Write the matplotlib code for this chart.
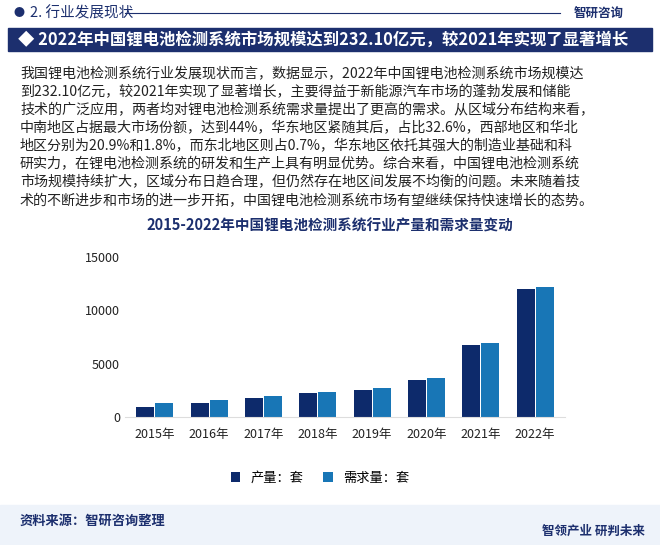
import matplotlib.pyplot as plt
from matplotlib.patches import Rectangle
import numpy as np

plt.rcParams['font.family'] = ['Noto Sans CJK SC', 'DejaVu Sans']

years = ['2015年', '2016年', '2017年', '2018年', '2019年', '2020年', '2021年', '2022年']
output = [910, 1320, 1820, 2230, 2510, 3450, 6770, 12040]
demand = [1320, 1600, 2000, 2320, 2700, 3670, 6960, 12230]

paragraph = [
    "我国锂电池检测系统行业发展现状而言，数据显示，2022年中国锂电池检测系统市场规模达",
    "到232.10亿元，较2021年实现了显著增长，主要得益于新能源汽车市场的蓬勃发展和储能",
    "技术的广泛应用，两者均对锂电池检测系统需求量提出了更高的需求。从区域分布结构来看，",
    "中南地区占据最大市场份额，达到44%，华东地区紧随其后，占比32.6%，西部地区和华北",
    "地区分别为20.9%和1.8%，而东北地区则占0.7%，华东地区依托其强大的制造业基础和科",
    "研实力，在锂电池检测系统的研发和生产上具有明显优势。综合来看，中国锂电池检测系统",
    "市场规模持续扩大，区域分布日趋合理，但仍然存在地区间发展不均衡的问题。未来随着技",
    "术的不断进步和市场的进一步开拓，中国锂电池检测系统市场有望继续保持快速增长的态势。",
]

W, H = 660, 545
fig = plt.figure(figsize=(6.6, 5.45), dpi=100)

def fy(py):
    return 1 - py / H

# header
fig.text(14 / W, fy(13), "●", fontsize=8, color='#1c2f6e', va='center')
fig.text(30 / W, fy(13), "2. 行业发展现状", fontsize=10.5, color='#1c2f6e', va='center')
fig.add_artist(plt.Line2D([125 / W, 560 / W], [fy(13), fy(13)], color='#1c2f6e', lw=0.8))
fig.text(574 / W, fy(13), "智研咨询", fontsize=9, color='#1c2f6e', va='center', weight='bold')
fig.add_artist(Rectangle((8 / W, fy(51)), 644 / W, 23 / H, color='#1c2f6e', transform=fig.transFigure))
fig.text(18 / W, fy(40), "◆ 2022年中国锂电池检测系统市场规模达到232.10亿元，较2021年实现了显著增长",
         fontsize=11.8, color='white', weight='bold', va='center')

for i, line in enumerate(paragraph):
    fig.text(20 / W, fy(74 + i * 18.1), line, fontsize=10.1, color='#222222', va='center')

fig.text(330 / W, fy(226), "2015-2022年中国锂电池检测系统行业产量和需求量变动",
         fontsize=10.5, color='#1c2f6e', weight='bold', ha='center', va='center')

ax = fig.add_axes([125 / W, fy(417), 440 / W, (417 - 257) / H])
x = np.arange(len(years))
w = 0.33
b1 = ax.bar(x - w / 2 - 0.01, output, w, color='#0d2a6b', label='产量：套')
b2 = ax.bar(x + w / 2 + 0.01, demand, w, color='#1876b6', label='需求量：套')
ax.set_ylim(0, 15000)
ax.set_xlim(-0.55, 7.55)
ax.set_yticks([0, 5000, 10000, 15000])
ax.set_xticks(x)
ax.set_xticklabels(years)
ax.tick_params(length=0, labelsize=9, colors='#222222')
ax.tick_params(axis='x', pad=8)
for s in ['top', 'right', 'left']:
    ax.spines[s].set_visible(False)
ax.spines['bottom'].set_color('#dddddd')
ax.patch.set_alpha(0)
fig.legend(handles=[b1, b2], loc='center', bbox_to_anchor=(320 / W, fy(478)), ncol=2,
           frameon=False, fontsize=9.5, handlelength=0.7, handleheight=0.7, columnspacing=1.5)

# footer
fig.add_artist(Rectangle((0, 0), 1, 40 / H, color='#eef3fa', transform=fig.transFigure))
fig.text(20 / W, fy(521), "资料来源：智研咨询整理", fontsize=9.5, color='#1c2f6e', va='center', weight='bold')
fig.text(645 / W, fy(531), "智领产业 研判未来", fontsize=9, color='#1c2f6e', va='center', ha='right', weight='bold')

fig.savefig('out.png', dpi=100)
